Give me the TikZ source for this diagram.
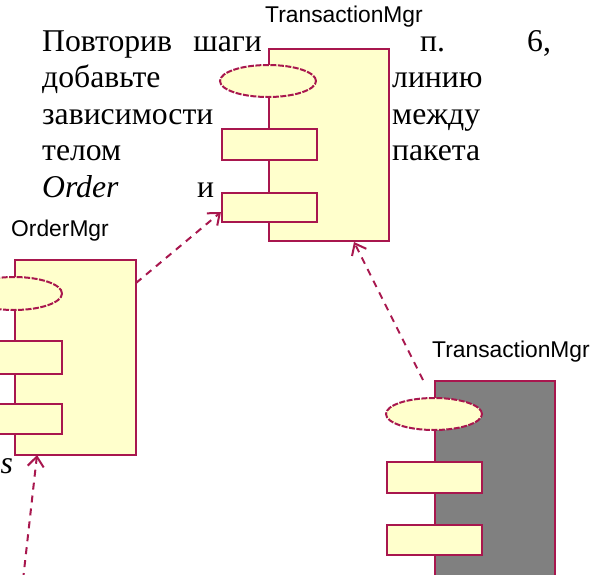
\documentclass[tikz,border=0pt]{standalone}
\usepackage{fontspec}
\setmainfont{Liberation Serif}
\newfontfamily\lblfont{Liberation Sans}
\usetikzlibrary{arrows.meta,shapes.geometric}
\definecolor{umlred}{HTML}{A8174E}
\definecolor{umlfill}{HTML}{FFFFCC}
\definecolor{umlgray}{HTML}{808080}
\tikzset{
  mainbox/.style={draw=umlred, line width=2.4pt, fill=umlfill, minimum width=120pt, inner sep=0pt, anchor=north west},
  ifell/.style={ellipse, draw=umlred, line width=2pt, fill=umlfill, dash pattern=on 6pt off 1.5pt, minimum width=96pt, minimum height=32pt, inner sep=0pt},
  portbox/.style={draw=umlred, line width=2.4pt, fill=umlfill, minimum width=95pt, minimum height=31pt, inner sep=0pt, anchor=north west},
  lbl/.style={font=\lblfont\fontsize{22.8}{26}\selectfont, text=black, inner sep=0pt},
  word/.style={font=\fontsize{31.7}{36}\selectfont, inner sep=0pt},
  dep/.style={draw=umlred, line width=2pt, dash pattern=on 7pt off 6pt, -{Straight Barb[length=10pt,width=16pt]}},
}
\begin{document}
\begin{tikzpicture}[x=1pt,y=-1pt]
\useasboundingbox (0,0) rectangle (606,574);
\clip (0,0) rectangle (606,574);
\fill[white] (0,0) rectangle (606,574);

% text paragraph
\node[word, anchor=base west] (w1) at (42,51) {Повторив};
\node[word, anchor=base east] (w2) at (262,51) {шаги};
\node[word, anchor=base west] (w3) at (420,51) {п.};
\node[word, anchor=base west] (w4) at (527,51) {6,};
\node[word, anchor=base west] (w5) at (42,87) {добавьте};
\node[word, anchor=base west] (w6) at (392,87) {линию};
\node[word, anchor=base west] (w7) at (42,124) {зависимости};
\node[word, anchor=base west] (w8) at (392,124) {между};
\node[word, anchor=base west] (w9) at (42,160) {телом};
\node[word, anchor=base west] (w10) at (392,160) {пакета};
\node[word, anchor=base west] (w11) at (42,197) {\itshape Order};
\node[word, anchor=base west] (w12) at (197,197) {и};
\node[word, anchor=base west] (w13) at (0.5,473) {\itshape s};

% top TransactionMgr
\node[lbl] (tlab) at (344,17) {TransactionMgr};
\node[mainbox, minimum height=192pt] (tmain) at (268,48) {};
\node[ifell] (tell) at (268,81) {};
\node[portbox] (tp1) at (221,128) {};
\node[portbox, minimum height=29pt] (tp2) at (221,192) {};

% OrderMgr
\node[lbl] (olab) at (60,231) {OrderMgr};
\node[mainbox, minimum height=195pt, minimum width=121pt] (omain) at (14,259) {};
\node[ifell, minimum height=33pt] (oell) at (14,293.5) {};
\node[portbox, minimum height=33pt] (op1) at (-34,340) {};
\node[portbox, minimum height=30pt] (op2) at (-34,403) {};

% bottom-right TransactionMgr
\node[lbl] (blab) at (511,352) {TransactionMgr};
\node[mainbox, fill=umlgray, minimum height=200pt] (bmain) at (434,380) {};
\node[ifell] (bell) at (434,414) {};
\node[portbox] (bp1) at (386,461) {};
\node[portbox, minimum height=30pt] (bp2) at (386,524) {};

% connector end points
\coordinate (a1s) at (136,283);
\coordinate (a1e) at (221,212);
\coordinate (a2s) at (423,380);
\coordinate (a2e) at (354,242);
\coordinate (a3s) at (23,580);
\coordinate (a3e) at (37,455);

\draw[dep] (a1s) -- (a1e);
\draw[dep] (a2s) -- (a2e);
\draw[dep] (a3s) -- (a3e);
\end{tikzpicture}
\end{document}
